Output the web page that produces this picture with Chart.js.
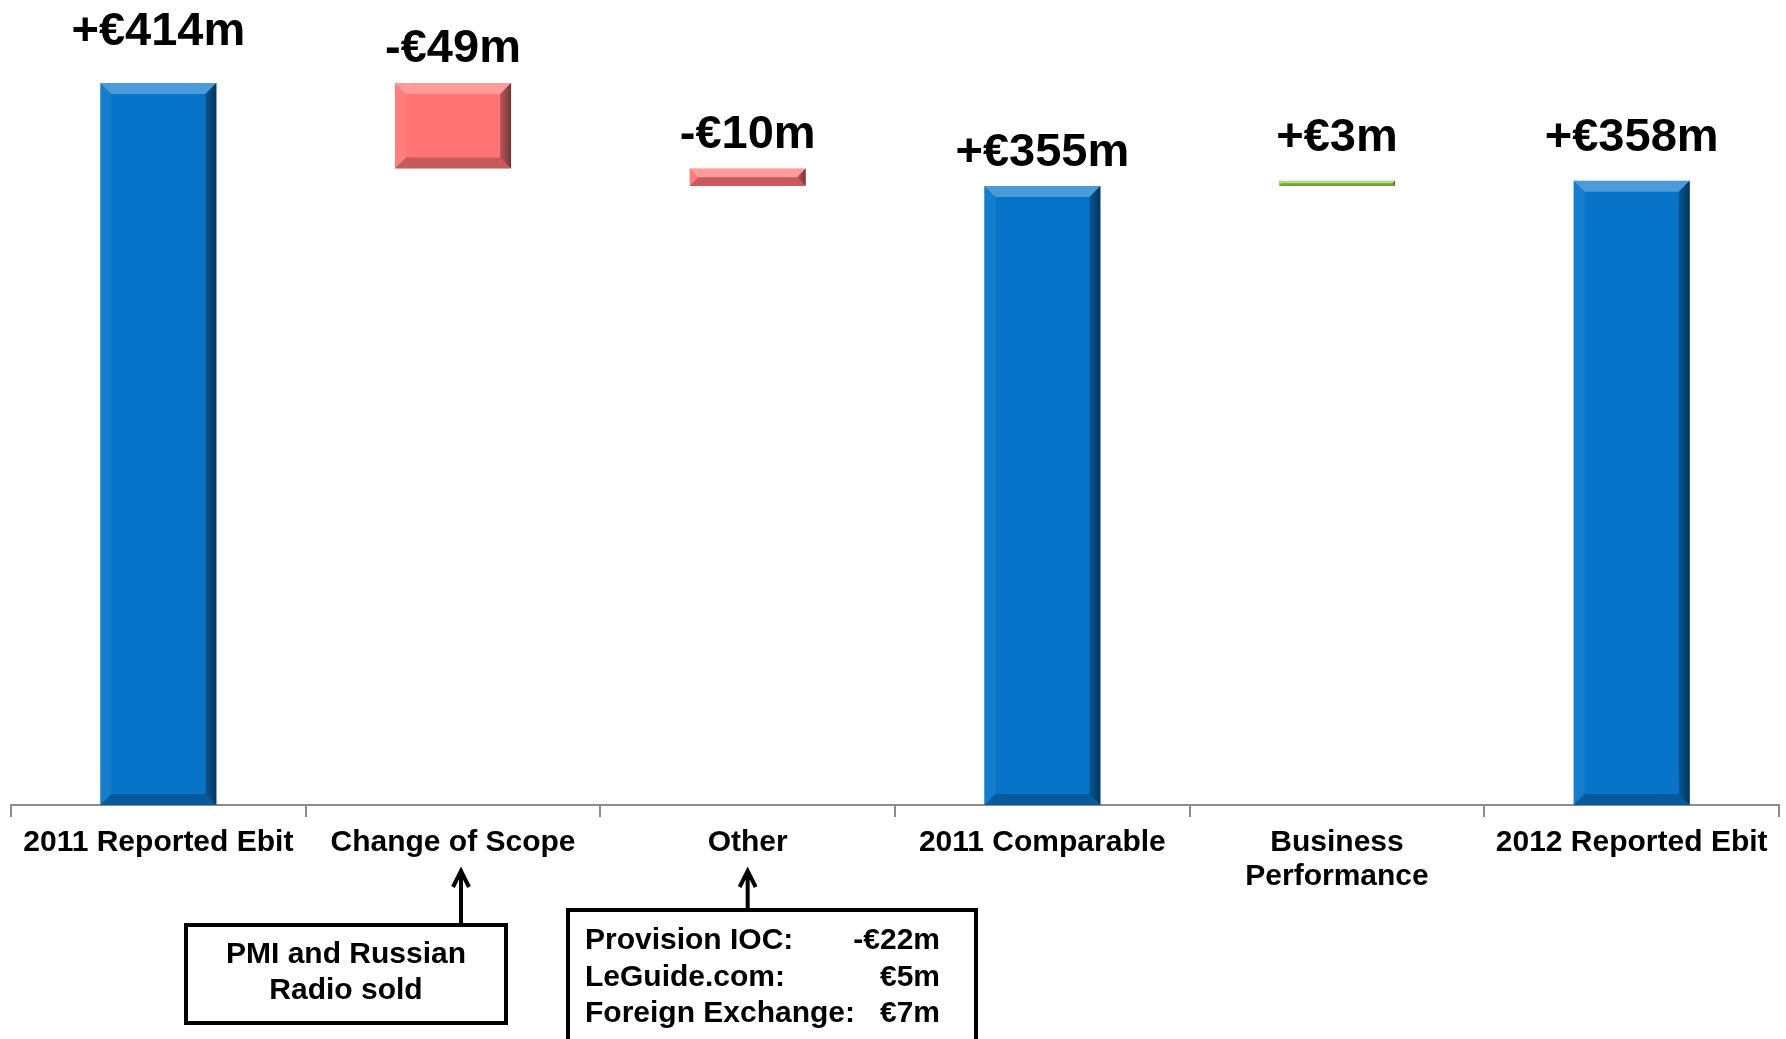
<!DOCTYPE html>
<html>
<head>
<meta charset="utf-8">
<script src="https://cdn.jsdelivr.net/npm/chart.js@4/dist/chart.umd.min.js"></script>
<style>
  html, body { margin: 0; padding: 0; background: #fff; }
  #wrap { width: 1786px; height: 1039px; }
</style>
</head>
<body>
<div id="wrap"><canvas id="ebit"></canvas></div>
<script>
// EBIT bridge, €m
const categories = ["2011 Reported Ebit", "Change of Scope", "Other", "2011 Comparable", ["Business", "Performance"], "2012 Reported Ebit"];
const values = [414, -49, -10, 355, 3, 358];
const isTotal = [true, false, false, true, false, true];

// how far each value label sits above its bar (px)
const labelOffsets = [51, 34, 33, 33, 43, 43];

const FONT = "'Liberation Sans', Arial, sans-serif";
const BLUE = "#0874C9";
const RED = "#FF7575";
const GREEN = "#92D050";

// Floating ranges: totals start from zero, deltas from the running total
let running = 0;
const ranges = values.map((v, i) => {
  if (isTotal[i]) {
    running = v;
    return [0, v];
  }
  const start = running;
  running += v;
  return [start, running];
});

const colors = values.map((v, i) => isTotal[i] ? BLUE : (v < 0 ? RED : GREEN));

function formatValue(v) {
  return (v < 0 ? "-" : "+") + "€" + Math.abs(v) + "m";
}

function poly(ctx, pts, fill) {
  ctx.beginPath();
  ctx.moveTo(pts[0][0], pts[0][1]);
  for (let k = 1; k < pts.length; k++) ctx.lineTo(pts[k][0], pts[k][1]);
  ctx.closePath();
  ctx.fillStyle = fill;
  ctx.fill();
}

// Bevelled edges on every bar
const bevel = {
  id: "bevel",
  afterDatasetsDraw(chart) {
    const ctx = chart.ctx;
    chart.getDatasetMeta(0).data.forEach(bar => {
      const p = bar.getProps(["x", "y", "base", "width"], true);
      const l = p.x - p.width / 2, r = p.x + p.width / 2;
      const t = Math.min(p.y, p.base), b = Math.max(p.y, p.base);
      const d = Math.min(11, (b - t) / 2);
      ctx.save();
      poly(ctx, [[l, t], [r, t], [r - d, t + d], [l + d, t + d]], "rgba(255,255,255,0.28)");
      poly(ctx, [[l, t], [l + d, t + d], [l + d, b - d], [l, b]], "rgba(255,255,255,0.06)");
      poly(ctx, [[l, b], [l + d, b - d], [r - d, b - d], [r, b]], "rgba(0,0,0,0.22)");
      const g = ctx.createLinearGradient(r - d, 0, r, 0);
      g.addColorStop(0, "rgba(0,0,0,0.25)");
      g.addColorStop(1, "rgba(0,0,0,0.55)");
      poly(ctx, [[r, t], [r, b], [r - d, b - d], [r - d, t + d]], g);
      ctx.restore();
    });
  }
};

// Value labels above the bars
const valueLabels = {
  id: "valueLabels",
  afterDatasetsDraw(chart) {
    const ctx = chart.ctx;
    ctx.save();
    ctx.font = "bold 47px " + FONT;
    ctx.fillStyle = "#000";
    ctx.textAlign = "center";
    ctx.textBaseline = "middle";
    chart.getDatasetMeta(0).data.forEach((bar, i) => {
      const p = bar.getProps(["x", "y", "base"], true);
      const top = Math.min(p.y, p.base);
      ctx.fillText(formatValue(values[i]), p.x, top - labelOffsets[i]);
    });
    ctx.restore();
  }
};

function arrowUp(ctx, x, y0, y1) {
  ctx.beginPath();
  ctx.moveTo(x, y0);
  ctx.lineTo(x, y1 + 2);
  ctx.moveTo(x - 8, y1 + 16);
  ctx.lineTo(x, y1);
  ctx.lineTo(x + 8, y1 + 16);
  ctx.stroke();
}

// Call-out boxes under the axis
const callouts = {
  id: "callouts",
  afterDraw(chart) {
    const ctx = chart.ctx;
    const xs = chart.scales.x;
    ctx.save();
    ctx.strokeStyle = "#000";
    ctx.lineWidth = 4;
    ctx.lineJoin = "miter";
    ctx.fillStyle = "#000";
    ctx.font = "bold 30px " + FONT;
    ctx.textBaseline = "middle";

    // Change of Scope
    const ax1 = xs.getPixelForValue(1) + 8;
    arrowUp(ctx, ax1, 925, 871);
    ctx.strokeRect(186, 925, 320, 98);
    ctx.textAlign = "center";
    ctx.fillText("PMI and Russian", 346, 955);
    ctx.fillText("Radio sold", 346, 991);

    // Other
    const ax2 = xs.getPixelForValue(2);
    arrowUp(ctx, ax2, 910, 871);
    ctx.strokeRect(568, 910, 408, 160);
    const rows = [["Provision IOC:", "-€22m"], ["LeGuide.com:", "€5m"], ["Foreign Exchange:", "€7m"]];
    rows.forEach((row, k) => {
      const y = 941 + k * 36.5;
      ctx.textAlign = "left";
      ctx.fillText(row[0], 585, y);
      ctx.textAlign = "right";
      ctx.fillText(row[1], 940, y);
    });
    ctx.restore();
  }
};

new Chart(document.getElementById("ebit"), {
  type: "bar",
  data: {
    labels: categories,
    datasets: [{
      data: ranges,
      backgroundColor: colors,
      borderWidth: 0,
      barPercentage: 0.394,
      categoryPercentage: 1
    }]
  },
  options: {
    responsive: true,
    maintainAspectRatio: false,
    animation: false,
    layout: { padding: { top: 83, left: 11, right: 7, bottom: 137 } },
    plugins: {
      legend: { display: false },
      tooltip: { enabled: false }
    },
    scales: {
      x: {
        grid: {
          drawOnChartArea: false,
          tickLength: 12,
          color: "#8C8C8C",
          lineWidth: 2
        },
        border: { color: "#8C8C8C", width: 2 },
        ticks: {
          color: "#000",
          padding: 8,
          maxRotation: 0,
          autoSkip: false,
          font: { family: FONT, size: 30, weight: "bold", lineHeight: 1.15 }
        }
      },
      y: {
        display: false,
        min: 0,
        max: 414
      }
    }
  },
  plugins: [bevel, valueLabels, callouts]
});
</script>
</body>
</html>
